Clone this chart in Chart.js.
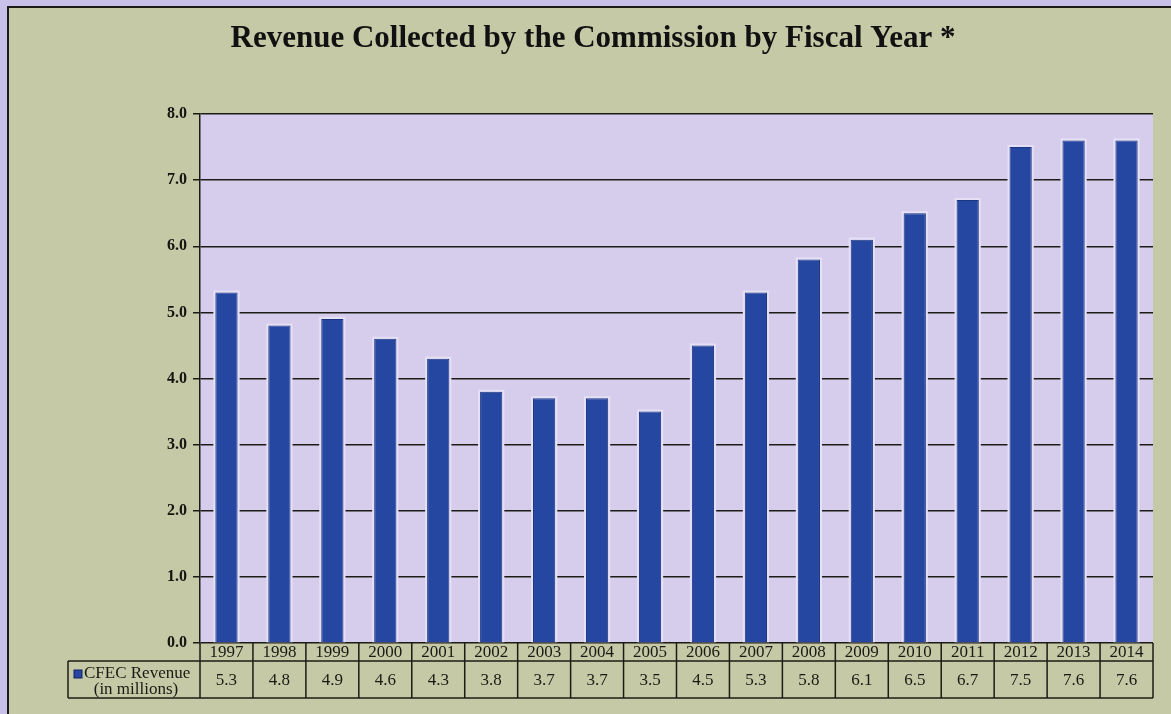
<!DOCTYPE html>
<html lang="en">

<head>
    <meta charset="UTF-8">
    <title>Revenue Collected by the Commission</title>
    <script src="https://cdn.jsdelivr.net/npm/chart.js"></script>
    <style>
        html, body { margin: 0; padding: 0; background: #c9c1ea; overflow: hidden; }
        #wrap { width: 1171px; height: 714px; }
    </style>
</head>

<body>
    <div id="wrap">
        <canvas id="revChart" width="1171" height="714"></canvas>
    </div>

    <script>
        // fiscal years and revenue (millions)
        const years = ['1997', '1998', '1999', '2000', '2001', '2002', '2003', '2004', '2005',
            '2006', '2007', '2008', '2009', '2010', '2011', '2012', '2013', '2014'];
        const revenue = [5.3, 4.8, 4.9, 4.6, 4.3, 3.8, 3.7, 3.7, 3.5,
            4.5, 5.3, 5.8, 6.1, 6.5, 6.7, 7.5, 7.6, 7.6];
        const yTicks = [0, 1, 2, 3, 4, 5, 6, 7, 8];

        const titleText = 'Revenue Collected by the Commission by Fiscal Year *';
        const seriesName = 'CFEC Revenue';
        const seriesUnit = '(in millions)';

        const pageBg = '#c5c9a6';
        const edgeBg = '#c9c1ea';
        const plotBg = '#d6cdec';
        const barBlue = '#2547a2';
        const ink = '#1c1c16';

        // page background, frame, title and plot area fill
        const backdrop = {
            id: 'backdrop',
            beforeDraw(chart) {
                const ctx = chart.ctx;
                const a = chart.chartArea;
                ctx.save();
                ctx.fillStyle = edgeBg;
                ctx.fillRect(0, 0, chart.width, chart.height);
                ctx.fillStyle = pageBg;
                ctx.fillRect(7, 7, chart.width - 7, chart.height - 7);
                ctx.strokeStyle = ink;
                ctx.lineWidth = 2;
                ctx.beginPath();
                ctx.moveTo(8, chart.height);
                ctx.lineTo(8, 7);
                ctx.lineTo(chart.width, 7);
                ctx.stroke();

                ctx.fillStyle = plotBg;
                ctx.fillRect(a.left, a.top, a.right - a.left, a.bottom - a.top);

                ctx.fillStyle = '#111';
                ctx.font = 'bold 31px "Liberation Serif", serif';
                ctx.textAlign = 'center';
                ctx.textBaseline = 'alphabetic';
                ctx.fillText(titleText, 593, 47);
                ctx.restore();
            }
        };

        // pale halo round each bar
        const barHalo = {
            id: 'barHalo',
            beforeDatasetsDraw(chart) {
                const ctx = chart.ctx;
                ctx.save();
                ctx.fillStyle = '#e6e0f6';
                chart.getDatasetMeta(0).data.forEach(bar => {
                    const p = bar.getProps(['x', 'y', 'base', 'width'], true);
                    ctx.fillRect(p.x - p.width / 2 - 2, p.y - 2, p.width + 4, p.base - p.y + 2);
                });
                ctx.restore();
            }
        };

        // data table under the x axis
        const dataTable = {
            id: 'dataTable',
            afterDraw(chart) {
                const ctx = chart.ctx;
                const x = chart.scales.x;
                const a = chart.chartArea;
                const step = x.getPixelForValue(1) - x.getPixelForValue(0);
                const top = a.bottom;
                const mid = top + 18;
                const bottom = top + 55;
                const labelLeft = 68;

                ctx.save();
                ctx.strokeStyle = ink;
                ctx.lineWidth = 1.5;
                ctx.beginPath();
                ctx.moveTo(a.left, mid);
                ctx.lineTo(a.right, mid);
                ctx.moveTo(labelLeft, bottom);
                ctx.lineTo(a.right, bottom);
                ctx.moveTo(labelLeft, mid);
                ctx.lineTo(a.left, mid);
                ctx.moveTo(labelLeft, mid);
                ctx.lineTo(labelLeft, bottom);
                years.forEach((yr, i) => {
                    const edge = x.getPixelForValue(i) - step / 2;
                    ctx.moveTo(edge, top);
                    ctx.lineTo(edge, bottom);
                });
                ctx.moveTo(a.right, top);
                ctx.lineTo(a.right, bottom);
                ctx.stroke();

                ctx.fillStyle = '#1a1a14';
                ctx.font = '17px "Liberation Serif", serif';
                ctx.textAlign = 'center';
                ctx.textBaseline = 'middle';
                years.forEach((yr, i) => {
                    const cx = x.getPixelForValue(i);
                    ctx.fillText(yr, cx, top + 10);
                    ctx.fillText(revenue[i].toFixed(1), cx, (mid + bottom) / 2 + 1);
                });

                // series key
                ctx.fillStyle = barBlue;
                ctx.fillRect(74, mid + 9, 8, 8);
                ctx.strokeStyle = '#13245e';
                ctx.lineWidth = 1;
                ctx.strokeRect(74, mid + 9, 8, 8);
                ctx.fillStyle = '#1a1a14';
                ctx.font = '17px "Liberation Serif", serif';
                ctx.textAlign = 'left';
                ctx.fillText(seriesName, 84, mid + 13);
                ctx.textAlign = 'center';
                ctx.fillText(seriesUnit, 136, mid + 29);
                ctx.restore();
            }
        };

        const ctx = document.getElementById('revChart').getContext('2d');
        new Chart(ctx, {
            type: 'bar',
            data: {
                labels: years,
                datasets: [{
                    label: seriesName,
                    data: revenue,
                    backgroundColor: barBlue,
                    borderColor: '#1b3580',
                    borderWidth: 1,
                    borderSkipped: 'start',
                    barPercentage: 0.42,
                    categoryPercentage: 1
                }]
            },
            options: {
                responsive: false,
                animation: false,
                layout: {
                    padding: { left: 0, right: 18, top: 114, bottom: 71 }
                },
                plugins: {
                    legend: { display: false },
                    title: { display: false },
                    tooltip: { enabled: false }
                },
                scales: {
                    x: { display: false },
                    y: {
                        min: 0,
                        max: 8,
                        afterFit(scale) { scale.width = 200; },
                        afterBuildTicks(scale) { scale.ticks = yTicks.map(v => ({ value: v })); },
                        ticks: {
                            padding: 6,
                            color: '#141410',
                            font: { family: '"Liberation Serif", serif', size: 16, weight: 'bold' },
                            callback: v => Number(v).toFixed(1)
                        },
                        grid: {
                            color: ink,
                            lineWidth: 1.5,
                            tickLength: 7
                        },
                        border: { color: ink, width: 1.5 }
                    }
                }
            },
            plugins: [backdrop, barHalo, dataTable]
        });
    </script>
</body>

</html>
